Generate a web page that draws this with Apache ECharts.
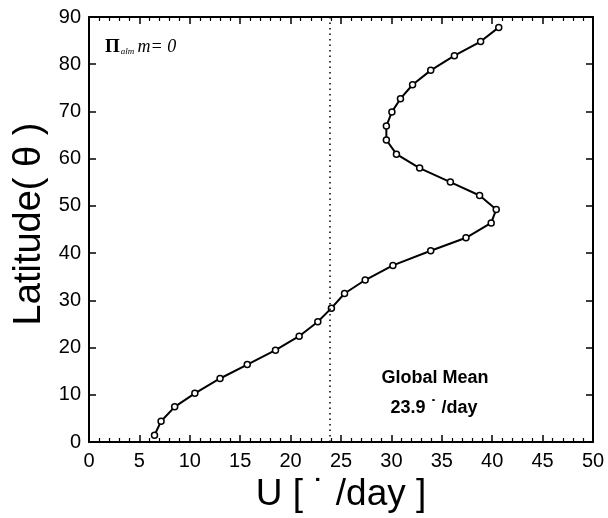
<!DOCTYPE html>
<html>
<head>
<meta charset="utf-8">
<script src="https://cdn.jsdelivr.net/npm/echarts@6/dist/echarts.min.js"></script>
<style>
  html, body { margin: 0; padding: 0; background: #fff; }
  #chart { width: 608px; height: 518px; }
</style>
</head>
<body>
<div id="chart"></div>
<script>
// zonal mean wind U (deg/day) against latitude
var uValues = [6.5, 7.15, 8.5, 10.5, 13.0, 15.7, 18.5, 20.85, 22.7, 24.05,
               25.35, 27.4, 30.15, 33.9, 37.4, 39.9, 40.4, 38.75, 35.85, 32.8,
               30.5, 29.5, 29.5, 30.05, 30.9, 32.1, 33.9, 36.25, 38.85, 40.65];
var latitudes = [1.45, 4.4, 7.45, 10.3, 13.45, 16.4, 19.45, 22.4, 25.45, 28.35,
                 31.45, 34.3, 37.4, 40.5, 43.25, 46.4, 49.25, 52.2, 55.05, 58.0,
                 60.95, 63.95, 66.9, 69.9, 72.7, 75.65, 78.7, 81.8, 84.8, 87.8];
var globalMean = 23.9;
var xTicks = [0, 5, 10, 15, 20, 25, 30, 35, 40, 45, 50];
var yTicks = [0, 10, 20, 30, 40, 50, 60, 70, 80, 90];

var points = uValues.map(function (u, i) { return [u, latitudes[i]]; });
var fontFam = '"Liberation Sans", Arial, Helvetica, sans-serif';

var myChart = echarts.init(document.getElementById('chart'));

function xAxisDef(pos, showLabel) {
    return {
        type: 'value',
        position: pos,
        min: xTicks[0],
        max: xTicks[xTicks.length - 1],
        interval: 5,
        splitLine: { show: false },
        axisLine: { show: true, onZero: false, lineStyle: { color: '#000', width: 2 } },
        axisTick: { show: true, inside: true, length: 7, lineStyle: { color: '#000', width: 1.5 } },
        minorTick: { show: true, splitNumber: 5, length: 4, lineStyle: { color: '#000', width: 1.2 } },
        axisLabel: { show: showLabel, color: '#000', fontSize: 20, fontFamily: fontFam, margin: 9 }
    };
}
function yAxisDef(pos, showLabel) {
    return {
        type: 'value',
        position: pos,
        min: yTicks[0],
        max: yTicks[yTicks.length - 1],
        interval: 10,
        splitLine: { show: false },
        axisLine: { show: true, onZero: false, lineStyle: { color: '#000', width: 2 } },
        axisTick: { show: true, inside: true, length: 7, lineStyle: { color: '#000', width: 1.5 } },
        axisLabel: { show: showLabel, color: '#000', fontSize: 20, fontFamily: fontFam, margin: 8 }
    };
}

myChart.setOption({
    animation: false,
    backgroundColor: '#fff',
    grid: { left: 89, right: 15, top: 17, bottom: 76 },
    xAxis: [xAxisDef('bottom', true), xAxisDef('top', false)],
    yAxis: [yAxisDef('left', true), yAxisDef('right', false)],
    series: [
        {
            type: 'line',
            data: points,
            symbol: 'circle',
            symbolSize: 6,
            itemStyle: { color: '#fff', borderColor: '#000', borderWidth: 1.5 },
            lineStyle: { color: '#000', width: 2 },
            markLine: {
                silent: true,
                symbol: 'none',
                label: { show: false },
                lineStyle: { color: '#000', type: [1.5, 4], width: 1.5 },
                data: [{ xAxis: globalMean }]
            }
        }
    ],
    graphic: [
        {
            type: 'text',
            left: 105, top: 38,
            style: {
                text: '{p|Π}{s|alm} {m|m= 0}',
                rich: {
                    p: { fontSize: 19, fontWeight: 'bold', fontFamily: '"Liberation Serif", serif', fill: '#000' },
                    s: { fontSize: 9, fontStyle: 'italic', fontFamily: '"Liberation Serif", serif', fill: '#000', padding: [8, 0, 0, 1] },
                    m: { fontSize: 18, fontStyle: 'italic', fontFamily: '"Liberation Serif", serif', fill: '#000' }
                }
            }
        },
        {
            type: 'text',
            x: 435, y: 378,
            style: { text: 'Global Mean', fontSize: 18, fontWeight: 'bold', fontFamily: fontFam, fill: '#000', align: 'center', verticalAlign: 'middle' }
        },
        {
            type: 'text',
            x: 434, y: 408,
            style: { text: '23.9 ˙ /day', fontSize: 18, fontWeight: 'bold', fontFamily: fontFam, fill: '#000', align: 'center', verticalAlign: 'middle' }
        },
        {
            type: 'text',
            x: 30, y: 224,
            rotation: Math.PI / 2,
            style: { text: 'Latitude( θ )', fontSize: 38, fontFamily: fontFam, fill: '#000', align: 'center', verticalAlign: 'middle' }
        },
        {
            type: 'text',
            x: 341, y: 495,
            style: { text: 'U [ ˙ /day ]', fontSize: 37, fontFamily: fontFam, fill: '#000', align: 'center', verticalAlign: 'middle' }
        }
    ]
});
</script>
</body>
</html>
